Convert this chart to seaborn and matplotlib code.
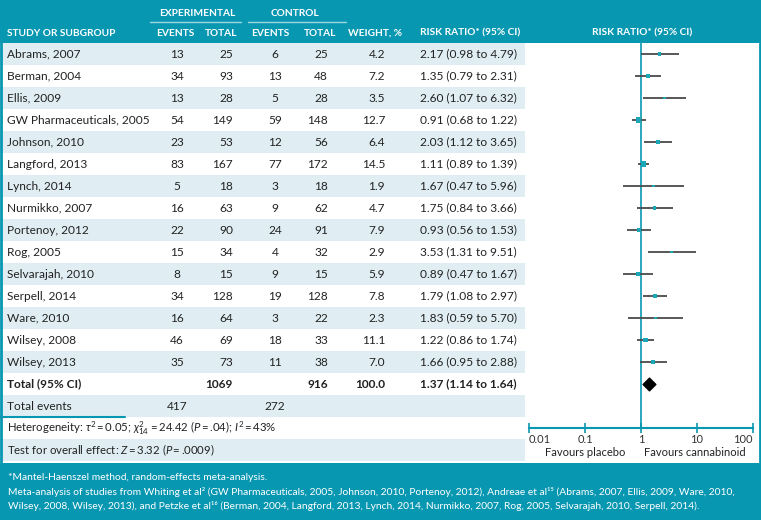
# Forest plot: cannabinoids vs placebo, risk ratio
import numpy as np
import pandas as pd
import matplotlib.pyplot as plt
from matplotlib.patches import Rectangle
import seaborn as sns

# ---- data ----
studies = ['Abrams, 2007', 'Berman, 2004', 'Ellis, 2009', 'GW Pharmaceuticals, 2005',
           'Johnson, 2010', 'Langford, 2013', 'Lynch, 2014', 'Nurmikko, 2007',
           'Portenoy, 2012', 'Rog, 2005', 'Selvarajah, 2010', 'Serpell, 2014',
           'Ware, 2010', 'Wilsey, 2008', 'Wilsey, 2013']
exp_events = [13, 34, 13, 54, 23, 83, 5, 16, 22, 15, 8, 34, 16, 46, 35]
exp_total = [25, 93, 28, 149, 53, 167, 18, 63, 90, 34, 15, 128, 64, 69, 73]
ctl_events = [6, 13, 5, 59, 12, 77, 3, 9, 24, 4, 9, 19, 3, 18, 11]
ctl_total = [25, 48, 28, 148, 56, 172, 18, 62, 91, 32, 15, 128, 22, 33, 38]
weights = [4.2, 7.2, 3.5, 12.7, 6.4, 14.5, 1.9, 4.7, 7.9, 2.9, 5.9, 7.8, 2.3, 11.1, 7.0]
rr = [2.17, 1.35, 2.60, 0.91, 2.03, 1.11, 1.67, 1.75, 0.93, 3.53, 0.89, 1.79, 1.83, 1.22, 1.66]
rr_lo = [0.98, 0.79, 1.07, 0.68, 1.12, 0.89, 0.47, 0.84, 0.56, 1.31, 0.47, 1.08, 0.59, 0.86, 0.95]
rr_hi = [4.79, 2.31, 6.32, 1.22, 3.65, 1.39, 5.96, 3.66, 1.53, 9.51, 1.67, 2.97, 5.70, 1.74, 2.88]

total_exp, total_ctl, total_weight = 1069, 916, 100.0
pooled_rr, pooled_lo, pooled_hi = 1.37, 1.14, 1.64
events_exp, events_ctl = 417, 272

tick_vals = [0.01, 0.1, 1, 10, 100]
tick_labels = ['0.01', '0.1', '1', '10', '100']

df = pd.DataFrame({'study': studies, 'rr': rr, 'lo': rr_lo, 'hi': rr_hi,
                   'weight': weights, 'row': np.arange(len(studies))})

# ---- style ----
sns.set_theme(style='white')
plt.rcParams['font.family'] = ['Lato', 'DejaVu Sans']
plt.rcParams['mathtext.fontset'] = 'custom'
plt.rcParams['mathtext.rm'] = 'Lato'
plt.rcParams['mathtext.it'] = 'Lato:italic'

TEAL = '#0897b1'
STRIPE = '#e0eef3'
TXT = '#222222'

W, H = 761, 520
fig = plt.figure(figsize=(W / 100, H / 100), dpi=100)
bg = fig.add_axes([0, 0, 1, 1])
bg.set_xlim(0, W)
bg.set_ylim(H, 0)
bg.axis('off')

ROW0, RH = 43, 22      # first row top, row height
TABLE_R = 525          # right edge of table section
FOOT = 463


def row_c(i):
    return ROW0 + RH * i + RH / 2


# header band and footnote band
bg.add_patch(Rectangle((0, 0), W, ROW0, color=TEAL, lw=0))
bg.add_patch(Rectangle((0, FOOT), W, H - FOOT, color=TEAL, lw=0))
# stripes
for i in range(19):
    if i % 2 == 0:
        top = ROW0 + RH * i
        bg.add_patch(Rectangle((0, top), TABLE_R, min(RH, FOOT - top), color=STRIPE, lw=0))
# outer frame
bg.add_patch(Rectangle((1, 1), W - 2.5, H - 2.5, fill=False, ec=TEAL, lw=2))
bg.plot([0, 125], [ROW0 + RH * 17, ROW0 + RH * 17], color=TEAL, lw=1.5)

# header text
hd = dict(color='white', fontsize=7.3, fontweight='bold', va='center')
bg.text(197, 13, 'EXPERIMENTAL', ha='center', **hd)
bg.text(295, 13, 'CONTROL', ha='center', **hd)
bg.plot([150, 241], [22, 22], color='#9fd6e0', lw=1)
bg.plot([248, 346], [22, 22], color='#9fd6e0', lw=1)
bg.text(7, 33, 'STUDY OR SUBGROUP', ha='left', **hd)
bg.text(175, 33, 'EVENTS', ha='center', **hd)
bg.text(221, 33, 'TOTAL', ha='center', **hd)
bg.text(270, 33, 'EVENTS', ha='center', **hd)
bg.text(320, 33, 'TOTAL', ha='center', **hd)
bg.text(375, 33, 'WEIGHT, %', ha='center', **hd)
bg.text(420, 33, 'RISK RATIO* (95% CI)', ha='left', **hd)
bg.text(642, 33, 'RISK RATIO* (95% CI)', ha='center', **hd)

# table rows
fs = 8.6
for i, s in enumerate(studies):
    y = row_c(i)
    bg.text(7, y, s, ha='left', va='center', fontsize=fs, color=TXT)
    bg.text(177, y, str(exp_events[i]), ha='center', va='center', fontsize=fs, color=TXT)
    bg.text(233, y, str(exp_total[i]), ha='right', va='center', fontsize=fs, color=TXT)
    bg.text(275, y, str(ctl_events[i]), ha='center', va='center', fontsize=fs, color=TXT)
    bg.text(328, y, str(ctl_total[i]), ha='right', va='center', fontsize=fs, color=TXT)
    bg.text(385, y, f'{weights[i]:.1f}', ha='right', va='center', fontsize=fs, color=TXT)
    bg.text(420, y, f'{rr[i]:.2f} ({rr_lo[i]:.2f} to {rr_hi[i]:.2f})',
            ha='left', va='center', fontsize=fs, color=TXT)

y = row_c(15)
b = dict(va='center', fontsize=fs, color=TXT, fontweight='bold')
bg.text(7, y, 'Total (95% CI)', ha='left', **b)
bg.text(233, y, str(total_exp), ha='right', **b)
bg.text(328, y, str(total_ctl), ha='right', **b)
bg.text(385, y, f'{total_weight:.1f}', ha='right', **b)
bg.text(420, y, f'{pooled_rr:.2f} ({pooled_lo:.2f} to {pooled_hi:.2f})', ha='left', **b)

y = row_c(16)
bg.text(7, y, 'Total events', ha='left', va='center', fontsize=fs, color=TXT)
bg.text(177, y, str(events_exp), ha='center', va='center', fontsize=fs, color=TXT)
bg.text(275, y, str(events_ctl), ha='center', va='center', fontsize=fs, color=TXT)

bg.text(7, row_c(17),
        r'Heterogeneity: $\tau^2\,$=$\,$0.05; $\chi^2_{14}\;$=$\,$24.42 ($P\,$=$\,$.04); $I^2\,$=$\,$43%',
        ha='left', va='center', fontsize=8.2, color=TXT)
bg.text(7, row_c(18), r'Test for overall effect: $Z\,$=$\,$3.32 ($P\,$=$\,$.0009)',
        ha='left', va='center', fontsize=8.2, color=TXT)

# footnote
fn = dict(color='white', fontsize=7.4, ha='left', va='center')
bg.text(8, 478, '*Mantel-Haenszel method, random-effects meta-analysis.', **fn)
bg.text(8, 492, 'Meta-analysis of studies from Whiting et al\u00b2 (GW Pharmaceuticals, 2005, Johnson, 2010, '
        'Portenoy, 2012), Andreae et al\u00b9\u2075 (Abrams, 2007, Ellis, 2009, Ware, 2010,', **fn)
bg.text(8, 506, 'Wilsey, 2008, Wilsey, 2013), and Petzke et al\u00b9\u2076 (Berman, 2004, Langford, 2013, '
        'Lynch, 2014, Nurmikko, 2007, Rog, 2005, Selvarajah, 2010, Serpell, 2014).', **fn)

# ---- forest axes ----
x0, x1 = 529, 753
ytop, ybot = ROW0, 428
fax = fig.add_axes([x0 / W, 1 - ybot / H, (x1 - x0) / W, (ybot - ytop) / H])
fax.patch.set_alpha(0)
fax.set_xscale('log')
fax.set_xlim(0.01, 100)
fax.set_ylim((ybot - row_c(0)) / RH, (ytop - row_c(0)) / RH)

fax.hlines(df['row'], df['lo'], df['hi'], color='#4a4a4a', lw=1.3, zorder=2)
sns.scatterplot(data=df, x='rr', y='row', size='weight', sizes=(3, 16), marker='s',
                color='#1aa8b8', edgecolor='none', legend=False, ax=fax, zorder=3)
fax.scatter([pooled_rr], [15], marker='D', s=42, color='black', zorder=3)
fax.plot([1, 1], list(fax.get_ylim()), color=TEAL, lw=1.2, zorder=1)

fax.set_xlim(0.01, 100)
fax.set_ylim((ybot - row_c(0)) / RH, (ytop - row_c(0)) / RH)

for sp in ['top', 'left', 'right']:
    fax.spines[sp].set_visible(False)
fax.spines['bottom'].set_visible(True)
fax.spines['bottom'].set_color(TEAL)
fax.spines['bottom'].set_linewidth(1.5)
fax.spines['bottom'].set_zorder(5)
fax.set_yticks([])
fax.set_xticks(tick_vals)
fax.set_xticklabels(tick_labels)
fax.minorticks_off()
fax.tick_params(axis='x', which='major', bottom=True, direction='inout', length=7,
                width=1.2, color=TEAL, labelsize=8, labelcolor='#333333', pad=1)
labs = fax.get_xticklabels()
labs[0].set_horizontalalignment('left')
labs[-1].set_horizontalalignment('right')
fax.set_xlabel('')
fax.set_ylabel('')

bg.text(585, 452, 'Favours placebo', ha='center', va='center', fontsize=8, color=TXT)
bg.text(695, 452, 'Favours cannabinoid', ha='center', va='center', fontsize=8, color=TXT)

fig.savefig('out.png', dpi=100)
